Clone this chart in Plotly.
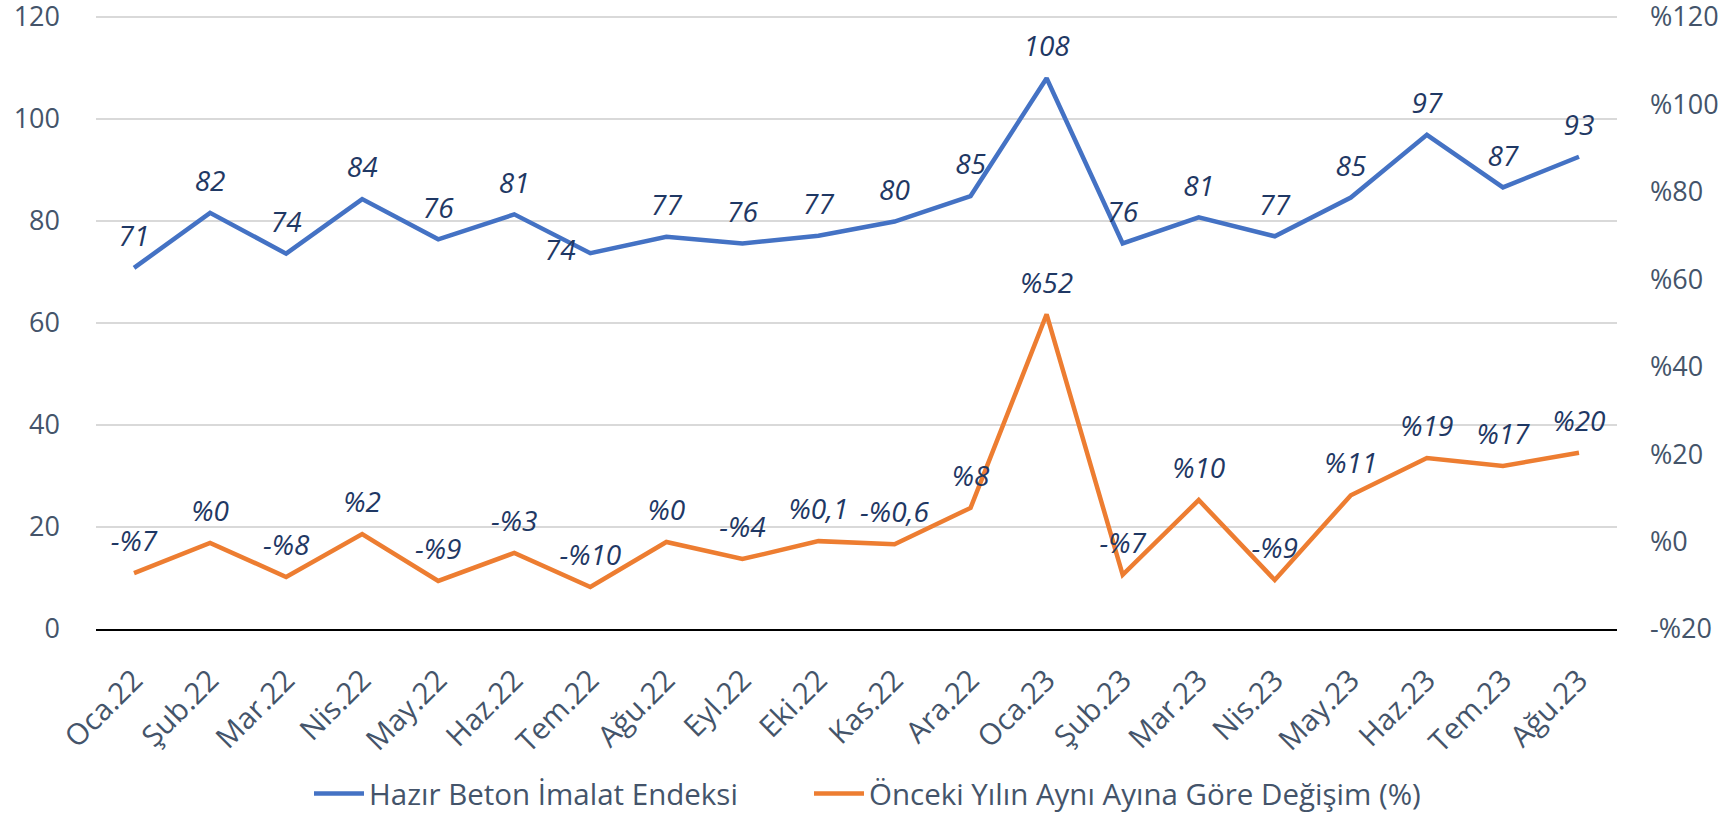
import plotly.graph_objects as go

months = ["Oca.22", "Şub.22", "Mar.22", "Nis.22", "May.22", "Haz.22", "Tem.22", "Ağu.22",
          "Eyl.22", "Eki.22", "Kas.22", "Ara.22", "Oca.23", "Şub.23", "Mar.23", "Nis.23",
          "May.23", "Haz.23", "Tem.23", "Ağu.23"]

index_values = [70.8, 81.6, 73.6, 84.3, 76.4, 81.3, 73.7, 76.9, 75.6, 77.1, 79.9, 84.9,
                108.0, 75.6, 80.7, 77.0, 84.6, 96.9, 86.6, 92.6]

yoy_change = [-7.2, -0.3, -8.1, 1.7, -9.0, -2.6, -10.4, -0.1, -4.0, 0.1, -0.6, 7.7,
              52.0, -7.6, 9.5, -8.8, 10.6, 19.1, 17.3, 20.3]

yoy_labels = ["-%7", "%0", "-%8", "%2", "-%9", "-%3", "-%10", "%0", "-%4", "%0,1", "-%0,6", "%8",
              "%52", "-%7", "%10", "-%9", "%11", "%19", "%17", "%20"]

left_ticks = [0, 20, 40, 60, 80, 100, 120]
right_ticks = [-20, 0, 20, 40, 60, 80, 100, 120]
right_ticktext = ["-%20", "%0", "%20", "%40", "%60", "%80", "%100", "%120"]

series_names = ["Hazır Beton İmalat Endeksi", "Önceki Yılın Aynı Ayına Göre Değişim (%)"]

FONT = "'Open Sans', 'Noto Sans', sans-serif"
AXIS_COLOR = "#44546A"
LABEL_COLOR = "#1F3864"
BLUE = "#4472C4"
ORANGE = "#ED7D31"
CLEAR = "rgba(0,0,0,0)"

blue_textpos = ["top center"] * len(months)
blue_textpos[6] = "middle left"

fig = go.Figure()
fig.add_trace(go.Scatter(
    x=months, y=index_values, name=series_names[0],
    mode="lines+markers+text",
    line=dict(color=BLUE, width=4.5),
    marker=dict(size=22, color=CLEAR, line=dict(width=0)),
    texttemplate="%{y:.0f}", textposition=blue_textpos,
    textfont=dict(family=FONT, size=28, color=LABEL_COLOR, style="italic"),
    yaxis="y", hoverinfo="x+y", legend="legend",
))
fig.add_trace(go.Scatter(
    x=months, y=yoy_change, name=series_names[1],
    mode="lines+markers+text",
    line=dict(color=ORANGE, width=4.5),
    marker=dict(size=22, color=CLEAR, line=dict(width=0)),
    text=yoy_labels, textposition="top center",
    textfont=dict(family=FONT, size=28, color=LABEL_COLOR, style="italic"),
    yaxis="y2", hoverinfo="x+y", legend="legend2",
))

legend_common = dict(orientation="h", xref="container", yref="container", xanchor="left",
                     y=0.032, yanchor="middle", font=dict(size=29.5, color=AXIS_COLOR),
                     itemwidth=50, bgcolor=CLEAR)

fig.update_layout(
    width=1728, height=820,
    margin=dict(l=96, r=111, t=15, b=191, autoexpand=False),
    paper_bgcolor="white", plot_bgcolor="white",
    font=dict(family=FONT, color=AXIS_COLOR, size=27),
    showlegend=True,
    legend=dict(x=309 / 1728, **legend_common),
    legend2=dict(x=809 / 1728, **legend_common),
    xaxis=dict(type="category", range=[-0.5, 19.5], tickangle=-45,
               showline=True, linecolor="#000000", linewidth=2, showgrid=False,
               ticks="", tickfont=dict(size=29.5, color=AXIS_COLOR), ticklabelstandoff=20),
    yaxis=dict(range=[0, 120.392], tickvals=left_ticks, showgrid=True, gridcolor="#D9D9D9",
               gridwidth=1.5, zeroline=False, ticks="", showline=False,
               ticklabeloverflow="allow",
               tickfont=dict(size=27, color=AXIS_COLOR), ticklabelstandoff=35),
    yaxis2=dict(range=[-20, 120.457], tickvals=right_ticks, ticktext=right_ticktext,
                overlaying="y", side="right", showgrid=False, zeroline=False, ticks="",
                ticklabeloverflow="allow",
                tickfont=dict(size=27, color=AXIS_COLOR), ticklabelstandoff=32),
)

# remove the default 8px page margin so the 1728x820 figure fills the window exactly
fig.write_html("out.html", config={"displayModeBar": False},
               post_script="document.body.style.margin='0';document.body.style.overflow='hidden';")
